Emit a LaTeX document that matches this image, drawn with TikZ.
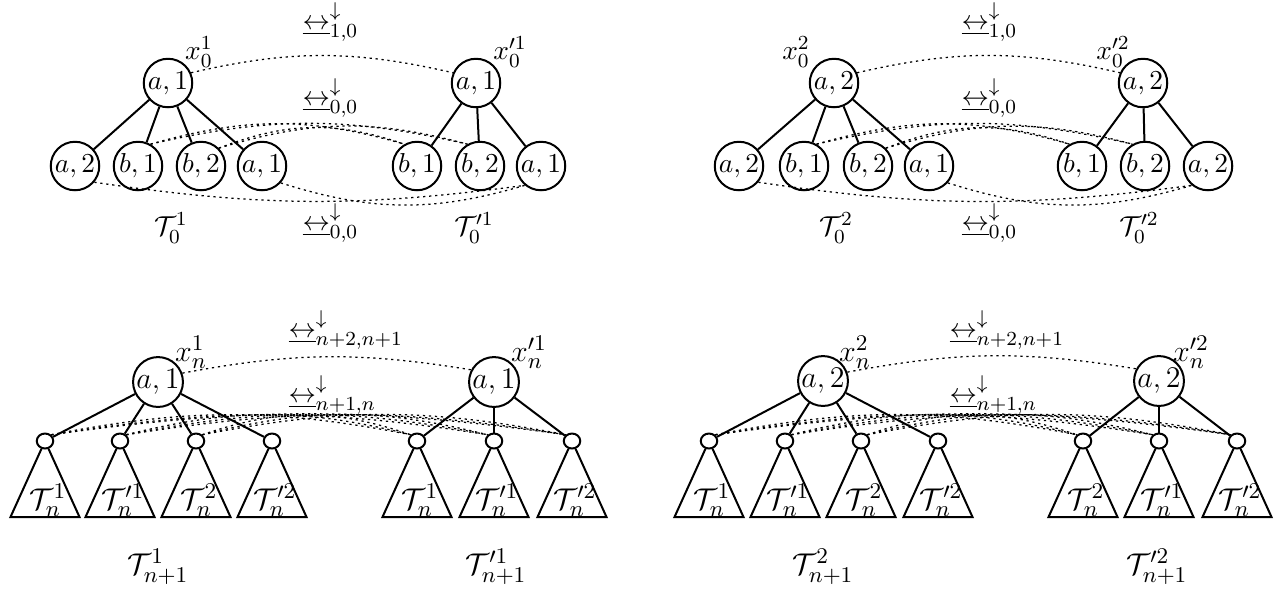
\documentclass[tikz,border=0pt,11pt]{standalone}
\usepackage{amsmath}
\usetikzlibrary{shapes.geometric}
\newcommand{\bisimto}[1]{\underline{\leftrightarrow}^{\downarrow}_{#1}}
\begin{document}
\begin{tikzpicture}[x=0.4pt,y=-0.4pt,
  bigc/.style={circle,draw,line width=0.8pt,inner sep=0pt,minimum size=19.4pt},
  botc/.style={circle,draw,line width=0.8pt,inner sep=0pt,minimum size=19pt,font=\fontsize{12}{14}\selectfont},
  smallc/.style={ellipse,draw,line width=0.8pt,inner sep=0pt,minimum width=6.6pt,minimum height=6pt},
  edge/.style={line width=0.8pt},
  rel/.style={line width=0.5pt,dash pattern=on 0.9pt off 1.5pt},
  lab/.style={inner sep=0pt},
  blab/.style={inner sep=0pt,font=\fontsize{13}{15}\selectfont},
  rlab/.style={inner sep=0pt,anchor=west}]
\useasboundingbox (0,0) rectangle (1278,589);

% ---------- top left ----------
\node[bigc] (A)  at (168,83)  {$a,1$};
\node[bigc] (A1) at (75,166)  {$a,2$};
\node[bigc] (A2) at (138,166) {$b,1$};
\node[bigc] (A3) at (201,166) {$b,2$};
\node[bigc] (A4) at (262,166) {$a,1$};
\node[bigc] (B)  at (476,83)  {$a,1$};
\node[bigc] (B1) at (417,166) {$b,1$};
\node[bigc] (B2) at (480,166) {$b,2$};
\node[bigc] (B3) at (541,166) {$a,1$};
\foreach \c in {A1,A2,A3,A4} \draw[edge] (A) -- (\c);
\foreach \c in {B1,B2,B3} \draw[edge] (B) -- (\c);
\node[lab] (xA) at (199,52) {$x^1_0$};
\node[lab] (xB) at (510,52) {$x'^1_0$};
\node[rlab] (rA1) at (302,22) {$\bisimto{1,0}$};
\node[rlab] (rA2) at (302,98) {$\bisimto{0,0}$};
\node[rlab] (rA3) at (302,223) {$\bisimto{0,0}$};
\node[lab] (TA) at (171,228) {$\mathcal{T}^1_0$};
\node[lab] (TB) at (474,228) {$\mathcal{T}'^1_0$};
\draw[rel] (A.24) to[bend left=13] (B.156);
\draw[rel] (A2.60) to[bend left=13] (B2.120);
\draw[rel] (A2.60) to[bend left=16] (B1.120);
\draw[rel] (A3.45) to[bend left=16] (B2.120);
\draw[rel] (A3.45) to[bend left=20] (B1.120);
\draw[rel] (A1.-40) to[bend right=8] (B3.230);
\draw[rel] (A4.-42) to[bend right=17] (B3.230);

% ---------- top right ----------
\node[bigc] (C)  at (834,83)  {$a,2$};
\node[bigc] (C1) at (739,166) {$a,2$};
\node[bigc] (C2) at (804,166) {$b,1$};
\node[bigc] (C3) at (868,166) {$b,2$};
\node[bigc] (C4) at (929,166) {$a,1$};
\node[bigc] (D)  at (1143,83) {$a,2$};
\node[bigc] (D1) at (1082,166) {$b,1$};
\node[bigc] (D2) at (1145,166) {$b,2$};
\node[bigc] (D3) at (1208,166) {$a,2$};
\foreach \c in {C1,C2,C3,C4} \draw[edge] (C) -- (\c);
\foreach \c in {D1,D2,D3} \draw[edge] (D) -- (\c);
\node[lab] (xC) at (796,52) {$x^2_0$};
\node[lab] (xD) at (1113,52) {$x'^2_0$};
\node[rlab] (rC1) at (961,22) {$\bisimto{1,0}$};
\node[rlab] (rC2) at (961,98) {$\bisimto{0,0}$};
\node[rlab] (rC3) at (961,223) {$\bisimto{0,0}$};
\node[lab] (TC) at (836,228) {$\mathcal{T}^2_0$};
\node[lab] (TD) at (1139,228) {$\mathcal{T}'^2_0$};
\draw[rel] (C.24) to[bend left=13] (D.156);
\draw[rel] (C2.60) to[bend left=13] (D2.120);
\draw[rel] (C2.60) to[bend left=16] (D1.120);
\draw[rel] (C3.45) to[bend left=16] (D2.120);
\draw[rel] (C3.45) to[bend left=20] (D1.120);
\draw[rel] (C1.-40) to[bend right=8] (D3.230);
\draw[rel] (C4.-42) to[bend right=17] (D3.230);

% ---------- bottom left ----------
\node[botc] (E)  at (158,382) {$a,1$};
\node[smallc] (E1) at (45,441) {};
\node[smallc] (E2) at (120,441) {};
\node[smallc] (E3) at (196,441) {};
\node[smallc] (E4) at (272,441) {};
\node[botc] (F)  at (494,382) {$a,1$};
\node[smallc] (F1) at (417,441) {};
\node[smallc] (F2) at (494,441) {};
\node[smallc] (F3) at (572,441) {};
\foreach \c in {E1,E2,E3,E4} {\draw[edge] (E) -- (\c);
  \draw[edge] (\c) -- ++(-34.5,76) -- ++(69,0) -- (\c);}
\foreach \c in {F1,F2,F3} {\draw[edge] (F) -- (\c);
  \draw[edge] (\c) -- ++(-34.5,76) -- ++(69,0) -- (\c);}
\node[blab] (tE1) at (48,500) {$\mathcal{T}^1_n$};
\node[blab] (tE2) at (123,500) {$\mathcal{T}'^1_n$};
\node[blab] (tE3) at (199,500) {$\mathcal{T}^2_n$};
\node[blab] (tE4) at (275,500) {$\mathcal{T}'^2_n$};
\node[blab] (tF1) at (420,500) {$\mathcal{T}^1_n$};
\node[blab] (tF2) at (497,500) {$\mathcal{T}'^1_n$};
\node[blab] (tF3) at (575,500) {$\mathcal{T}'^2_n$};
\node[blab] (xE) at (191,352) {$x^1_n$};
\node[blab] (xF) at (529,352) {$x'^1_n$};
\node[rlab] (rE1) at (288,330) {$\bisimto{n+2,n+1}$};
\node[rlab] (rE2) at (288,395) {$\bisimto{n+1,n}$};
\node[blab] (TE) at (158,567) {$\mathcal{T}^1_{n+1}$};
\node[blab] (TF) at (496,567) {$\mathcal{T}'^1_{n+1}$};
\draw[rel] (E.20) to[bend left=10] (F.152);
\draw[rel] (E1.45) to[bend left=11] (F1.135);
\draw[rel] (E1.45) to[bend left=9] (F2.135);
\draw[rel] (E1.45) to[bend left=8] (F3.135);
\draw[rel] (E2.45) to[bend left=14] (F1.135);
\draw[rel] (E2.45) to[bend left=11] (F2.135);
\draw[rel] (E2.45) to[bend left=9] (F3.135);
\draw[rel] (E3.45) to[bend left=19] (F1.135);
\draw[rel] (E3.45) to[bend left=14] (F2.135);
\draw[rel] (E3.45) to[bend left=11] (F3.135);

% ---------- bottom right ----------
\node[botc] (G)  at (823,381) {$a,2$};
\node[smallc] (G1) at (709,441) {};
\node[smallc] (G2) at (785,441) {};
\node[smallc] (G3) at (861,441) {};
\node[smallc] (G4) at (938,441) {};
\node[botc] (H)  at (1159,381) {$a,2$};
\node[smallc] (H1) at (1083,441) {};
\node[smallc] (H2) at (1159,441) {};
\node[smallc] (H3) at (1237,441) {};
\foreach \c in {G1,G2,G3,G4} {\draw[edge] (G) -- (\c);
  \draw[edge] (\c) -- ++(-34.5,76) -- ++(69,0) -- (\c);}
\foreach \c in {H1,H2,H3} {\draw[edge] (H) -- (\c);
  \draw[edge] (\c) -- ++(-34.5,76) -- ++(69,0) -- (\c);}
\node[blab] (tG1) at (712,500) {$\mathcal{T}^1_n$};
\node[blab] (tG2) at (788,500) {$\mathcal{T}'^1_n$};
\node[blab] (tG3) at (864,500) {$\mathcal{T}^2_n$};
\node[blab] (tG4) at (941,500) {$\mathcal{T}'^2_n$};
\node[blab] (tH1) at (1086,500) {$\mathcal{T}^2_n$};
\node[blab] (tH2) at (1162,500) {$\mathcal{T}'^1_n$};
\node[blab] (tH3) at (1240,500) {$\mathcal{T}'^2_n$};
\node[blab] (xG) at (855,352) {$x^2_n$};
\node[blab] (xH) at (1191,352) {$x'^2_n$};
\node[rlab] (rG1) at (949,330) {$\bisimto{n+2,n+1}$};
\node[rlab] (rG2) at (949,395) {$\bisimto{n+1,n}$};
\node[blab] (TG) at (823,567) {$\mathcal{T}^2_{n+1}$};
\node[blab] (TH) at (1157,567) {$\mathcal{T}'^2_{n+1}$};
\draw[rel] (G.20) to[bend left=10] (H.152);
\draw[rel] (G1.45) to[bend left=11] (H1.135);
\draw[rel] (G1.45) to[bend left=9] (H2.135);
\draw[rel] (G1.45) to[bend left=8] (H3.135);
\draw[rel] (G2.45) to[bend left=14] (H1.135);
\draw[rel] (G2.45) to[bend left=11] (H2.135);
\draw[rel] (G2.45) to[bend left=9] (H3.135);
\draw[rel] (G3.45) to[bend left=19] (H1.135);
\draw[rel] (G3.45) to[bend left=14] (H2.135);
\draw[rel] (G3.45) to[bend left=11] (H3.135);
\end{tikzpicture}
\end{document}
